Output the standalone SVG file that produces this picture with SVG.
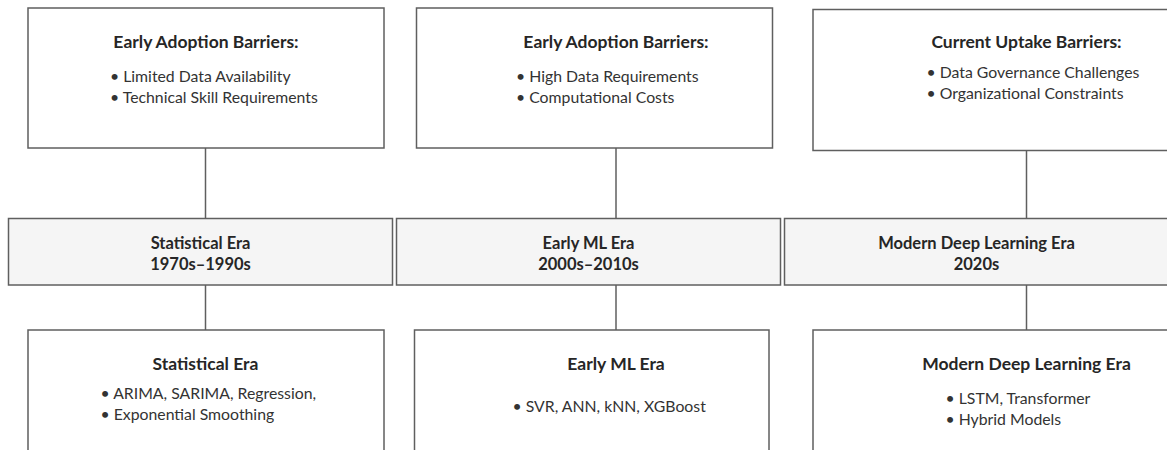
<svg xmlns="http://www.w3.org/2000/svg" width="1167" height="450" viewBox="0 0 1167 450">
  <style>
    .box { fill: #ffffff; stroke: #5f5f5f; stroke-width: 1.5; }
    .era { fill: #f5f5f5; stroke: #5f5f5f; stroke-width: 1.5; }
    .link { stroke: #5f5f5f; stroke-width: 1.5; fill: none; }
    .title { font-family: Lato, "Liberation Sans", sans-serif; font-weight: bold; font-size: 17.5px; fill: #262626; text-anchor: middle; }
    .band { font-size: 16.5px; }
    .item { font-family: Lato, "Liberation Sans", sans-serif; font-size: 15.8px; fill: #333333; }
  </style>
  <rect width="1167" height="450" fill="#ffffff"/>

  <!-- connectors: barrier box to era band, era band to method box -->
  <g id="connectors">
    <line class="link" x1="205.5" y1="148" x2="205.5" y2="218"/>
    <line class="link" x1="205.5" y1="285" x2="205.5" y2="330"/>
    <line class="link" x1="616" y1="148" x2="616" y2="218"/>
    <line class="link" x1="616" y1="285" x2="616" y2="330"/>
    <line class="link" x1="1026.5" y1="150" x2="1026.5" y2="218"/>
    <line class="link" x1="1026.5" y1="285" x2="1026.5" y2="330"/>
  </g>

  <!-- top row: adoption barriers -->
  <g id="barriers-statistical">
    <rect class="box" x="28" y="8" width="356" height="140"/>
    <text class="title" x="206" y="48">Early Adoption Barriers:</text>
    <text class="item" x="110" y="82">• Limited Data Availability</text>
    <text class="item" x="110" y="103">• Technical Skill Requirements</text>
  </g>
  <g id="barriers-ml">
    <rect class="box" x="416.5" y="8" width="356" height="140"/>
    <text class="title" x="616" y="48">Early Adoption Barriers:</text>
    <text class="item" x="516" y="82">• High Data Requirements</text>
    <text class="item" x="516" y="103">• Computational Costs</text>
  </g>
  <g id="barriers-deep">
    <rect class="box" x="813" y="9.5" width="360" height="141"/>
    <text class="title" x="1026.5" y="47.5">Current Uptake Barriers:</text>
    <text class="item" x="926.5" y="78">• Data Governance Challenges</text>
    <text class="item" x="926.5" y="98.5">• Organizational Constraints</text>
  </g>

  <!-- middle row: era bands -->
  <g id="era-statistical">
    <rect class="era" x="8.5" y="218.5" width="384" height="66.5"/>
    <text class="title band" x="200.5" y="248.5">Statistical Era</text>
    <text class="title band" x="200.5" y="269.5">1970s–1990s</text>
  </g>
  <g id="era-ml">
    <rect class="era" x="396.5" y="218.5" width="384" height="66.5"/>
    <text class="title band" x="588.5" y="248.5">Early ML Era</text>
    <text class="title band" x="588.5" y="269.5">2000s–2010s</text>
  </g>
  <g id="era-deep">
    <rect class="era" x="784.5" y="218.5" width="384" height="66.5"/>
    <text class="title band" x="976.5" y="248.5">Modern Deep Learning Era</text>
    <text class="title band" x="976.5" y="269.5">2020s</text>
  </g>

  <!-- bottom row: methods of each era -->
  <g id="methods-statistical">
    <rect class="box" x="28" y="330" width="356" height="140"/>
    <text class="title" x="205.5" y="370">Statistical Era</text>
    <text class="item" x="100.5" y="399">• ARIMA, SARIMA, Regression,</text>
    <text class="item" x="100.5" y="420">• Exponential Smoothing</text>
  </g>
  <g id="methods-ml">
    <rect class="box" x="414.5" y="330" width="354.5" height="140"/>
    <text class="title" x="616" y="370">Early ML Era</text>
    <text class="item" x="512.5" y="411.5">• SVR, ANN, kNN, XGBoost</text>
  </g>
  <g id="methods-deep">
    <rect class="box" x="813" y="330" width="360" height="140"/>
    <text class="title" x="1026.5" y="370">Modern Deep Learning Era</text>
    <text class="item" x="945.5" y="403.5">• LSTM, Transformer</text>
    <text class="item" x="945.5" y="424.5">• Hybrid Models</text>
  </g>
</svg>
